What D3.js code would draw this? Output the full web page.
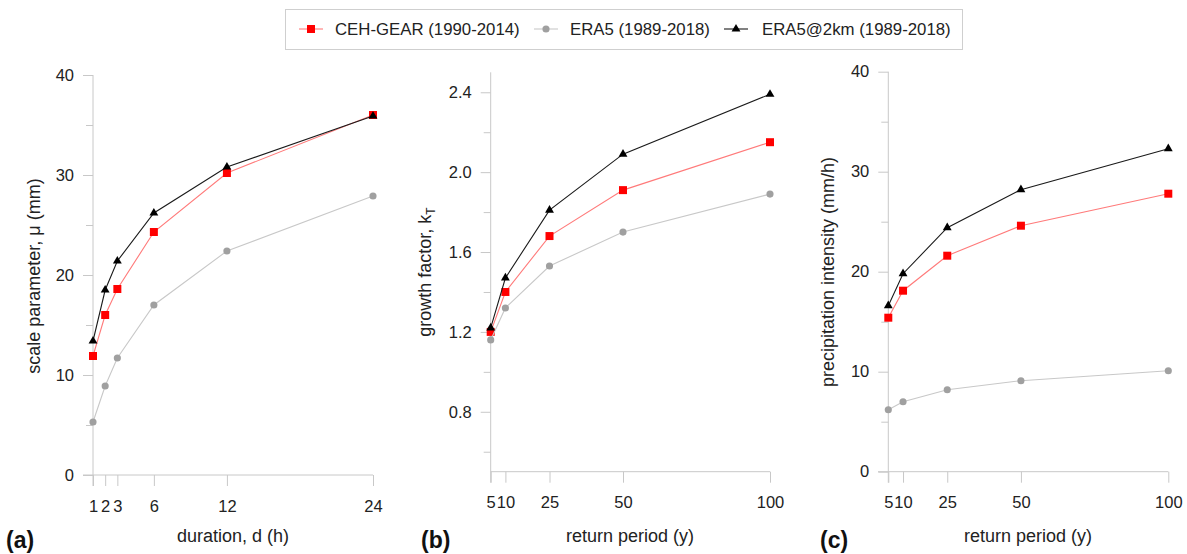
<!DOCTYPE html>
<html>
<head>
<meta charset="utf-8">
<script src="https://cdn.jsdelivr.net/npm/d3@7"></script>
<style>
  html, body { margin: 0; padding: 0; background: #fff; }
  svg { display: block; font-family: "Liberation Sans", Arial, Helvetica, sans-serif; }
</style>
</head>
<body>
<svg id="chart" width="1187" height="554"></svg>
<script>
// ---------------- data ----------------
const durations = [1, 2, 3, 6, 12, 24];
const returnPeriods = [5, 10, 25, 50, 100];

const scaleCEH = [11.9, 16.0, 18.6, 24.3, 30.2, 36.0];
const scaleERA5 = [5.3, 8.9, 11.7, 17.0, 22.4, 27.9];
const scaleERA5_2km = [13.4, 18.5, 21.4, 26.2, 30.8, 35.9];

const growthCEH = [1.20, 1.40, 1.68, 1.91, 2.15];
const growthERA5 = [1.16, 1.32, 1.53, 1.70, 1.89];
const growthERA5_2km = [1.22, 1.47, 1.81, 2.09, 2.39];

const intensityCEH = [15.4, 18.1, 21.6, 24.6, 27.8];
const intensityERA5 = [6.2, 7.0, 8.2, 9.1, 10.1];
const intensityERA5_2km = [16.6, 19.8, 24.4, 28.2, 32.3];

const yTicksA = [0, 10, 20, 30, 40];
const yMinorA = [5, 15, 25, 35];
const yTicksB = [0.8, 1.2, 1.6, 2.0, 2.4];
const yMinorB = [0.6, 1.0, 1.4, 1.8, 2.2];
const yTicksC = [0, 10, 20, 30, 40];
const yMinorC = [5, 15, 25, 35];

const seriesNames = ["CEH-GEAR (1990-2014)", "ERA5 (1989-2018)", "ERA5@2km (1989-2018)"];
const panelLabels = ["(a)", "(b)", "(c)"];

// ---------------- styles ----------------
const styles = [
  { line: "#ff7a7a", fill: "#ff0000", symbol: d3.symbolSquare, size: 64 },
  { line: "#c8c8c8", fill: "#a0a0a0", symbol: d3.symbolCircle, size: 40 },
  { line: "#1a1a1a", fill: "#000000", symbol: d3.symbolTriangle, size: 34 }
];
const axisColor = "#c8c8c8";
const textColor = "#222";

const svg = d3.select("#chart");

function drawPanel(cfg) {
  const x = d3.scaleLinear().domain(cfg.xDomain).range(cfg.xRange);
  const y = d3.scaleLinear().domain(cfg.yDomain).range(cfg.yRange);
  const g = svg.append("g");

  // y axis (major)
  const yAx = g.append("g").attr("transform", `translate(${cfg.xRange[0]},0)`)
    .call(d3.axisLeft(y).tickValues(cfg.yTicks).tickSize(10).tickPadding(9)
      .tickFormat(cfg.yFormat));
  yAx.select(".domain").remove();
  yAx.selectAll(".tick line").attr("stroke", axisColor);
  yAx.selectAll(".tick text").attr("fill", textColor).style("font-size", "16.5px")
    .style("font-family", "'Liberation Sans', Arial, sans-serif");
  // y minor ticks
  const yMin = g.append("g").attr("transform", `translate(${cfg.xRange[0]},0)`)
    .call(d3.axisLeft(y).tickValues(cfg.yMinor).tickSize(7).tickFormat(""));
  yMin.select(".domain").remove();
  yMin.selectAll(".tick line").attr("stroke", axisColor);
  // y axis line
  g.append("line")
    .attr("x1", cfg.xRange[0]).attr("x2", cfg.xRange[0])
    .attr("y1", cfg.yRange[1]).attr("y2", cfg.yRange[0] + 11)
    .attr("stroke", axisColor).attr("stroke-width", 1);

  // x axis
  const xAx = g.append("g").attr("transform", `translate(0,${cfg.yRange[0]})`)
    .call(d3.axisBottom(x).tickValues(cfg.xTicks).tickSize(11).tickPadding(14)
      .tickFormat(d3.format("d")));
  xAx.select(".domain").remove();
  xAx.selectAll(".tick line").attr("stroke", axisColor);
  xAx.selectAll(".tick text").attr("fill", textColor).style("font-size", "16.5px")
    .style("font-family", "'Liberation Sans', Arial, sans-serif");
  g.append("line")
    .attr("x1", cfg.xAxisStart).attr("x2", cfg.xRange[1])
    .attr("y1", cfg.yRange[0]).attr("y2", cfg.yRange[0])
    .attr("stroke", axisColor).attr("stroke-width", 1);

  // series
  const line = d3.line().x(d => x(d[0])).y(d => y(d[1]));
  cfg.series.forEach((vals, i) => {
    const pts = cfg.xTicks.map((xv, j) => [xv, vals[j]]);
    g.append("path").datum(pts).attr("d", line)
      .attr("fill", "none").attr("stroke", styles[i].line).attr("stroke-width", 1.1);
    g.selectAll(null).data(pts).enter().append("path")
      .attr("transform", d => `translate(${x(d[0])},${y(d[1])})`)
      .attr("d", d3.symbol().type(styles[i].symbol).size(styles[i].size))
      .attr("fill", styles[i].fill);
  });

  // axis titles
  g.append("text")
    .attr("x", cfg.xTitleX).attr("y", 542)
    .attr("text-anchor", "middle").attr("fill", textColor)
    .style("font-size", "18px").text(cfg.xTitle);
  const yt = g.append("text")
    .attr("transform", `translate(${cfg.yTitleX},${cfg.yTitleY}) rotate(-90)`)
    .attr("text-anchor", "middle").attr("fill", textColor)
    .style("font-size", "18px");
  yt.append("tspan").text(cfg.yTitle);
  if (cfg.ySub) {
    yt.append("tspan").attr("dy", "0.3em").style("font-size", "12px").text(cfg.ySub);
  }

  // panel label
  g.append("text")
    .attr("x", cfg.labelX).attr("y", 548)
    .attr("fill", "#111").style("font-size", "23px").style("font-weight", "bold")
    .text(cfg.label);
}

drawPanel({
  xDomain: [1, 24], xRange: [93, 373], xTicks: durations, xAxisStart: 83,
  yDomain: [0, 40], yRange: [475, 75], yTicks: yTicksA, yMinor: yMinorA,
  yFormat: d3.format("d"),
  series: [scaleCEH, scaleERA5, scaleERA5_2km],
  xTitle: "duration, d (h)", xTitleX: 233,
  yTitle: "scale parameter, \u03bc (mm)", yTitleX: 40, yTitleY: 276,
  label: panelLabels[0], labelX: 6
});

drawPanel({
  xDomain: [5, 100], xRange: [490.7, 770], xTicks: returnPeriods, xAxisStart: 490.7,
  yDomain: [0.5, 2.5], yRange: [471.7, 72.3], yTicks: yTicksB, yMinor: yMinorB,
  yFormat: d3.format(".1f"),
  series: [growthCEH, growthERA5, growthERA5_2km],
  xTitle: "return period (y)", xTitleX: 630,
  yTitle: "growth factor, k", ySub: "T", yTitleX: 431, yTitleY: 272,
  label: panelLabels[1], labelX: 421
});

drawPanel({
  xDomain: [5, 100], xRange: [888.3, 1168.3], xTicks: returnPeriods, xAxisStart: 878,
  yDomain: [0, 40], yRange: [471.7, 71.7], yTicks: yTicksC, yMinor: yMinorC,
  yFormat: d3.format("d"),
  series: [intensityCEH, intensityERA5, intensityERA5_2km],
  xTitle: "return period (y)", xTitleX: 1028,
  yTitle: "precipitation intensity (mm/h)", yTitleX: 834, yTitleY: 272,
  label: panelLabels[2], labelX: 820
});

// ---------------- legend ----------------
const legend = svg.append("g");
legend.append("rect")
  .attr("x", 285.5).attr("y", 9.5).attr("width", 677).attr("height", 40)
  .attr("fill", "#fff").attr("stroke", "#cfcfcf").attr("stroke-width", 1);
const legendItems = [
  { mx: 311, tx: 335 },
  { mx: 546, tx: 570 },
  { mx: 736, tx: 762 }
];
legendItems.forEach((it, i) => {
  legend.append("line")
    .attr("x1", it.mx - 12).attr("x2", it.mx + 12).attr("y1", 29).attr("y2", 29)
    .attr("stroke", styles[i].line).attr("stroke-width", 1.1);
  legend.append("path")
    .attr("transform", `translate(${it.mx},29)`)
    .attr("d", d3.symbol().type(styles[i].symbol).size(styles[i].size))
    .attr("fill", styles[i].fill);
  legend.append("text")
    .attr("x", it.tx).attr("y", 35)
    .attr("fill", textColor).style("font-size", "16.8px")
    .text(seriesNames[i]);
});
</script>
</body>
</html>
